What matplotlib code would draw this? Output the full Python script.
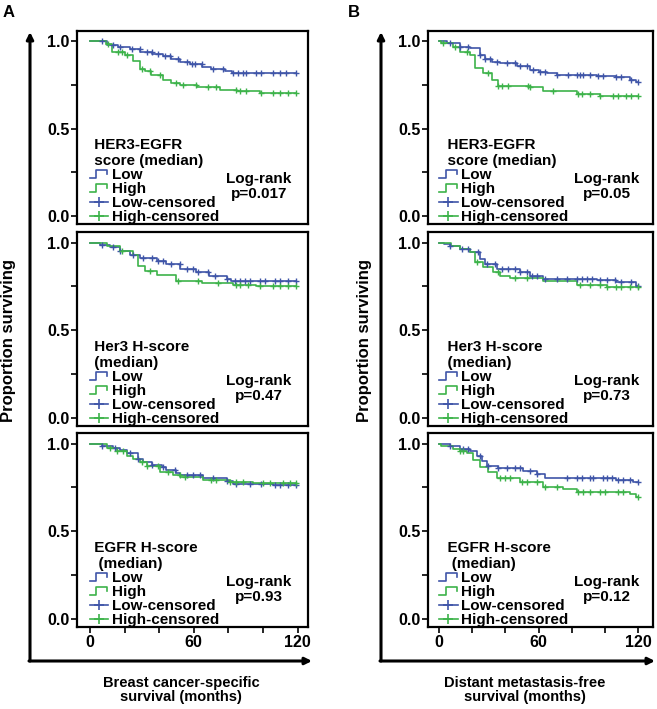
import matplotlib
matplotlib.use('Agg')
import matplotlib.pyplot as plt
import numpy as np
from matplotlib.legend_handler import HandlerBase
from matplotlib.lines import Line2D

plt.rcParams.update({
    'font.family': ['Liberation Sans', 'DejaVu Sans'],
    'font.weight': 'bold',
    'axes.labelweight': 'bold',
})

BLUE = '#3F55A8'
GREEN = '#3DB34A'

# Kaplan-Meier curves: event times (months), survival after
# each step, and censoring times.
# A, top: HER3-EGFR score, breast cancer-specific survival
A1_LOW_T = [10, 16, 23, 29, 36, 42, 47, 52, 58, 65, 70, 78, 82]
A1_LOW_S = [0.98, 0.97, 0.955, 0.94, 0.93, 0.915, 0.90, 0.88, 0.87, 0.855, 0.845, 0.83, 0.82]
A1_LOW_C = [6.7, 13.5, 17.3, 24, 28.9, 32.7, 35.6, 39.4, 43.2, 46.2, 51, 55.8, 58.7, 60.6,
            64.5, 71.2, 77, 82.7, 85.6, 88.5, 90.4, 96.2, 99.1, 105.8, 109.6, 113.5, 119]
A1_HIGH_T = [9, 13, 20, 25, 29, 32, 35, 42, 47, 52, 62, 75, 85, 98]
A1_HIGH_S = [0.985, 0.94, 0.92, 0.89, 0.845, 0.83, 0.81, 0.78, 0.765, 0.75, 0.737, 0.725, 0.716, 0.707]
A1_HIGH_C = [10.6, 16.4, 18.3, 21.2, 29.8, 34.6, 40.4, 50, 53.8, 61.5, 68.3, 73.1, 84.6,
             86.5, 90.4, 99.1, 105.8, 109.6, 114.4, 119]

# A, middle: Her3 H-score
A2_LOW_T = [5.8, 11.5, 17.3, 23, 28.9, 38.5, 44.2, 52, 61.5, 69, 78.9, 81.7]
A2_LOW_S = [0.985, 0.973, 0.949, 0.93, 0.91, 0.897, 0.878, 0.85, 0.834, 0.807, 0.793, 0.779]
A2_LOW_C = [6.7, 13.5, 17.3, 25, 30.8, 35.6, 39.4, 42.3, 47.1, 51.9, 55.8, 59.6, 62.5, 68.3,
            72.1, 78.9, 83.7, 86.5, 89.4, 92.3, 98.1, 101, 106.7, 109.6, 114.4, 119]
A2_HIGH_T = [9.6, 17.3, 25, 28, 31.7, 38.5, 50, 65, 82.7, 96]
A2_HIGH_S = [0.983, 0.949, 0.93, 0.869, 0.84, 0.815, 0.783, 0.77, 0.758, 0.75]
A2_HIGH_C = [18.3, 34.6, 51, 62.5, 74, 84.6, 86.5, 91.3, 98.1, 105.8, 109.6, 114.4, 119]

# A, bottom: EGFR H-score
A3_LOW_T = [6.7, 13.5, 17.3, 21.2, 27.9, 30.8, 35.6, 41.4, 44.2, 50, 52, 65.4, 78.9, 82.7, 105.8]
A3_LOW_S = [0.986, 0.973, 0.963, 0.948, 0.911, 0.892, 0.877, 0.864, 0.849, 0.83, 0.821,
            0.802, 0.789, 0.77, 0.763]
A3_LOW_C = [6.7, 14.4, 23, 27.9, 35.6, 42.3, 49, 55.8, 59.6, 63.5, 71.2, 78.9, 84.6, 92.3,
            99.1, 106.7, 109.6, 114.4, 119]
A3_HIGH_T = [9.6, 15.4, 21.2, 25, 28.9, 32.7, 40.4, 48.1, 52, 65.4, 80.8, 94.2]
A3_HIGH_S = [0.976, 0.958, 0.93, 0.911, 0.892, 0.87, 0.839, 0.821, 0.807, 0.794, 0.783, 0.775]
A3_HIGH_C = [11.5, 15.4, 19.2, 29.8, 32.7, 39.4, 45.2, 51.9, 54.8, 70.2, 73.1, 80.8, 84.6,
             88.5, 100, 103.8, 111.5, 115.4, 119]

# B, top: HER3-EGFR score, distant metastasis-free survival
B1_LOW_T = [5, 12.7, 18.7, 24.7, 27.7, 32, 36.8, 46.8, 54.9, 60, 65, 71, 95, 107, 115, 119]
B1_LOW_S = [0.99, 0.97, 0.96, 0.92, 0.897, 0.885, 0.874, 0.859, 0.836, 0.825, 0.817, 0.807,
            0.802, 0.794, 0.779, 0.77]
B1_LOW_C = [6.6, 12.7, 17.7, 24.7, 27.7, 30.8, 34.8, 40.8, 45.8, 48.9, 52.9, 56.9, 60.9, 63.9,
            71, 78, 83, 85, 87, 91, 96, 99, 107, 110, 116, 120]
B1_HIGH_T = [1, 8.6, 12.7, 18.7, 21.7, 26.7, 31.8, 35.8, 54.9, 62.9, 83, 97]
B1_HIGH_S = [0.99, 0.97, 0.94, 0.92, 0.846, 0.817, 0.78, 0.745, 0.737, 0.718, 0.70, 0.69]
B1_HIGH_C = [2.6, 9.6, 16.7, 29.8, 35.8, 37.8, 41.8, 53.9, 54.9, 68.9, 84, 86, 91, 97, 105,
             108, 113, 116, 120]

# B, middle: Her3 H-score
B2_LOW_T = [3, 6.6, 12.7, 18.7, 24.7, 27.7, 34.8, 48.9, 54.9, 62.9, 95, 107, 119]
B2_LOW_S = [0.99, 0.98, 0.964, 0.945, 0.907, 0.878, 0.85, 0.834, 0.811, 0.793, 0.787, 0.773, 0.75]
B2_LOW_C = [6.6, 13.7, 17.7, 23.7, 28.8, 33.8, 37.8, 41.8, 45.8, 48.9, 52.9, 55.9, 58.9, 63.9,
            71, 77, 83, 86, 89, 92, 97, 101, 106, 110, 116, 120]
B2_HIGH_T = [7, 12.7, 18.7, 21.7, 26.7, 32.8, 36.8, 42.8, 62.9, 83, 101]
B2_HIGH_S = [0.98, 0.964, 0.945, 0.888, 0.859, 0.83, 0.811, 0.796, 0.783, 0.758, 0.745]
B2_HIGH_C = [22.7, 35.8, 45.8, 52.9, 85, 91, 97, 101, 107, 110, 115, 120]

# B, bottom: EGFR H-score
B3_LOW_T = [6.6, 12.7, 18.7, 22.7, 25.7, 28.8, 35.8, 50.9, 58.9, 63.9, 107, 117]
B3_LOW_S = [0.984, 0.971, 0.958, 0.928, 0.901, 0.871, 0.858, 0.845, 0.829, 0.805, 0.792, 0.782]
B3_LOW_C = [6.6, 14.7, 17.7, 24.7, 29.8, 35.8, 40.8, 45.8, 48.9, 54.9, 58.9, 77, 83, 86, 91,
            93, 99, 101, 104, 108, 111, 115, 120]
B3_HIGH_T = [1, 8.6, 12.7, 16.7, 20.7, 24.7, 29.8, 34.8, 48.9, 62.9, 74.8, 83, 115, 119]
B3_HIGH_S = [0.984, 0.971, 0.958, 0.945, 0.907, 0.864, 0.836, 0.802, 0.78, 0.754, 0.739,
             0.726, 0.715, 0.695]
B3_HIGH_C = [12.7, 14.7, 36.8, 39.8, 42.8, 49.9, 52.9, 58.9, 63.9, 71, 84, 87, 91, 97, 100,
             108, 111, 120]

TITLES = ['HER3-EGFR\nscore (median)', 'Her3 H-score\n(median)', 'EGFR H-score\n (median)']
PVALS_A = ['0.017', '0.47', '0.93']
PVALS_B = ['0.05', '0.73', '0.12']
LEGEND_LABELS = ['Low', 'High', 'Low-censored', 'High-censored']

PANELS = {
    'A': [(A1_LOW_T, A1_LOW_S, A1_LOW_C, A1_HIGH_T, A1_HIGH_S, A1_HIGH_C),
          (A2_LOW_T, A2_LOW_S, A2_LOW_C, A2_HIGH_T, A2_HIGH_S, A2_HIGH_C),
          (A3_LOW_T, A3_LOW_S, A3_LOW_C, A3_HIGH_T, A3_HIGH_S, A3_HIGH_C)],
    'B': [(B1_LOW_T, B1_LOW_S, B1_LOW_C, B1_HIGH_T, B1_HIGH_S, B1_HIGH_C),
          (B2_LOW_T, B2_LOW_S, B2_LOW_C, B2_HIGH_T, B2_HIGH_S, B2_HIGH_C),
          (B3_LOW_T, B3_LOW_S, B3_LOW_C, B3_HIGH_T, B3_HIGH_S, B3_HIGH_C)],
}

W, H = 657, 709
# left px, width px, xlim, legend x (axes fraction), log-rank x (axes fraction)
COLS = {'A': (77, 231, (-7.5, 126), 0.056, 0.788),
        'B': (428, 225, (-6.6, 129), 0.05, 0.796)}
ROWS = [(31, 224), (232, 426), (433, 627)]


class HandlerStep(HandlerBase):
    """Little step glyph used by the SPSS-style legend."""

    def create_artists(self, legend, orig_handle, xdescent, ydescent, width, height,
                       fontsize, trans):
        xs = np.array([0.0, 0.35, 0.35, 0.95, 0.95]) * width - xdescent
        ys = np.array([0.1, 0.1, 0.85, 0.85, 0.45]) * height - ydescent
        return [Line2D(xs, ys, color=orig_handle.get_color(), lw=1.2, transform=trans)]


def km_curve(ax, times, surv, cens, color):
    t = np.r_[0, times, max(max(cens), times[-1])]
    s = np.r_[1.0, surv, surv[-1]]
    ax.step(t, s, where='post', color=color, lw=1.2, zorder=3)
    idx = np.searchsorted(np.r_[0, times], cens, side='right') - 1
    ax.plot(cens, np.r_[1.0, surv][idx], ls='none', marker='+', ms=5, mew=1.0,
            color=color, zorder=4)


fig = plt.figure(figsize=(W / 100, H / 100), dpi=100)

for col, (left, width, xlim, leg_x, lr_x) in COLS.items():
    pvals = PVALS_A if col == 'A' else PVALS_B
    indent = ' ' if col == 'A' else '  '
    for r, (top, bottom) in enumerate(ROWS):
        ax = fig.add_axes([left / W, 1 - bottom / H, width / W, (bottom - top) / H])
        lt, ls_, lc, ht, hs, hc = PANELS[col][r]
        km_curve(ax, lt, ls_, lc, BLUE)
        km_curve(ax, ht, hs, hc, GREEN)
        ax.set_xlim(*xlim)
        ax.set_ylim(-0.045, 1.06)
        ax.set_yticks([0, 0.25, 0.5, 0.75, 1.0])
        ax.set_yticklabels(['0.0', '', '0.5', '', '1.0'])
        if r == 2:
            ax.set_xticks([0, 20, 40, 60, 80, 100, 120])
            ax.set_xticklabels(['0', '', '', '60', '', '', '120'])
        else:
            ax.set_xticks([])
        ax.tick_params(direction='out', length=4, width=1.2, labelsize=11.5, pad=1.5)
        for sp in ax.spines.values():
            sp.set_linewidth(1.6)

        handles = [Line2D([], [], color=BLUE), Line2D([], [], color=GREEN),
                   Line2D([], [], color=BLUE, lw=1.2, marker='+', ms=7, mew=1.2),
                   Line2D([], [], color=GREEN, lw=1.2, marker='+', ms=7, mew=1.2)]
        title = '\n'.join(indent + line for line in TITLES[r].split('\n'))
        leg = ax.legend(handles, LEGEND_LABELS, title=title, loc='lower left',
                        bbox_to_anchor=(leg_x, 0.0), frameon=False, fontsize=11,
                        title_fontproperties={'size': 11, 'weight': 'bold'},
                        handlelength=1.2, handletextpad=0.25, labelspacing=0.0,
                        borderpad=0, borderaxespad=0, alignment='left',
                        handler_map={handles[0]: HandlerStep(), handles[1]: HandlerStep()})
        leg.get_title().set_linespacing(1.2)
        ax.text(lr_x, 0.195, 'Log-rank\np=' + pvals[r],
                transform=ax.transAxes, ha='center', va='center', fontsize=11,
                linespacing=1.1)

# outer frame with arrows, panel letters and shared axis titles
frame = fig.add_axes([0, 0, 1, 1], zorder=-1)
frame.set_xlim(0, W)
frame.set_ylim(H, 0)
frame.axis('off')
arrow = dict(arrowstyle='-|>', lw=2.2, color='black', mutation_scale=10,
             shrinkA=0, shrinkB=0)
for x0, x1 in [(30, 312), (381, 655)]:
    frame.annotate('', xy=(x0, 32), xytext=(x0, 661), arrowprops=arrow)
    frame.annotate('', xy=(x1, 661), xytext=(x0 - 1, 661), arrowprops=arrow)

frame.text(3, 5, 'A', fontsize=12, ha='left', va='top')
frame.text(348, 5, 'B', fontsize=12, ha='left', va='top')
frame.text(9, 341, 'Proportion surviving', rotation=90, ha='center', va='center',
           fontsize=12)
frame.text(364, 341, 'Proportion surviving', rotation=90, ha='center', va='center',
           fontsize=12)
frame.text(181, 690, 'Breast cancer-specific\nsurvival (months)', ha='center',
           va='center', fontsize=10.5, linespacing=1.05)
frame.text(525, 690, 'Distant metastasis-free\nsurvival (months)', ha='center',
           va='center', fontsize=10.5, linespacing=1.05)

fig.savefig('out.png', dpi=100)
